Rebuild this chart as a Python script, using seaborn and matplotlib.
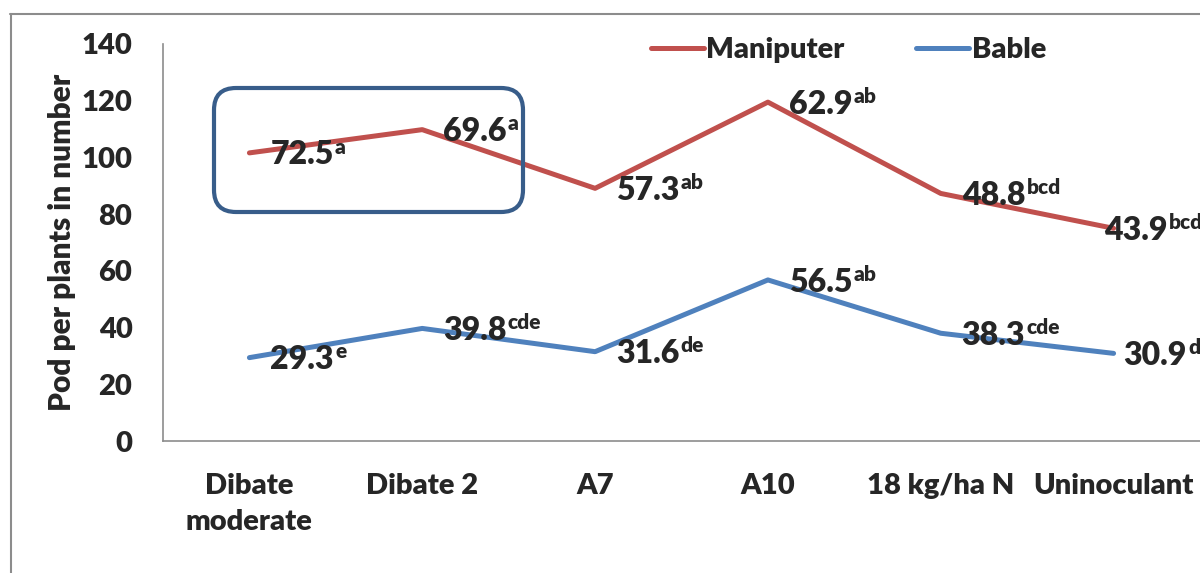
import matplotlib
matplotlib.use("Agg")
import matplotlib.pyplot as plt
import seaborn as sns
import pandas as pd
from matplotlib.patches import FancyBboxPatch
from matplotlib.lines import Line2D

# Données
categories = ["Dibate\nmoderate", "Dibate 2", "A7", "A10", "18 kg/ha N", "Uninoculant"]
maniputer = [101.6, 109.8, 89.1, 119.5, 87.3, 75.0]
bable = [29.4, 39.7, 31.5, 56.8, 38.0, 30.9]
maniputer_vals = ["72.5", "69.6", "57.3", "62.9", "48.8", "43.9"]
maniputer_sup = ["a", "a", "ab", "ab", "bcd", "bcde"]
bable_vals = ["29.3", "39.8", "31.6", "56.5", "38.3", "30.9"]
bable_sup = ["e", "cde", "de", "ab", "cde", "de"]

colors = {"Maniputer": "#C0504D", "Bable": "#4F81BD"}
W = "heavy"

sns.set_style("white")
plt.rcParams["font.family"] = ["Lato", "DejaVu Sans"]
plt.rcParams["font.weight"] = W

df = pd.DataFrame({
    "pos": list(range(len(categories))) * 2,
    "value": maniputer + bable,
    "serie": ["Maniputer"] * len(categories) + ["Bable"] * len(categories),
})

fig = plt.figure(figsize=(12, 5.73), dpi=100)
ax = fig.add_axes([163 / 1200, 1 - 441 / 573, 1 - 163 / 1200, (441 - 44) / 573])

sns.lineplot(data=df, x="pos", y="value", hue="serie", palette=colors,
             linewidth=3.6, sort=False, ax=ax, legend=False)

ax.set_xlim(-0.5, len(categories) - 0.5)
ax.set_ylim(0, 140)
ax.set_yticks(range(0, 141, 20))
ax.set_xticks(range(len(categories)))
ax.set_xticklabels(categories, fontsize=21, fontweight=W, linespacing=1.5)
ax.tick_params(axis="x", length=0, pad=23)
ax.tick_params(axis="y", length=0, pad=22, labelsize=21)
for lab in ax.get_yticklabels():
    lab.set_fontweight(W)
ax.set_xlabel("")
ax.set_ylabel("Pod per plants in number", fontsize=21.5, fontweight=W, labelpad=4)

for side in ["top", "right"]:
    ax.spines[side].set_visible(False)
for side in ["left", "bottom"]:
    ax.spines[side].set_color("#8C8C8C")
    ax.spines[side].set_linewidth(1.2)

# Étiquettes de données avec exposants (la dernière est repoussée vers l'intérieur, comme dans Excel)
def add_labels(values, texts, sups, last_dx):
    for i, (v, t, s) in enumerate(zip(values, texts, sups)):
        dx = 15 if i < len(values) - 1 else last_dx
        main = ax.annotate(t, xy=(i, v), xytext=(dx, -1.5), textcoords="offset points",
                           ha="left", va="center", fontsize=23, fontweight=W,
                           annotation_clip=False)
        ax.annotate(s, xy=(1.0, 1.0), xycoords=main, xytext=(1, 2),
                    textcoords="offset points", ha="left", va="top",
                    fontsize=15, fontweight=W, annotation_clip=False)

add_labels(maniputer, maniputer_vals, maniputer_sup, -7)
add_labels(bable, bable_vals, bable_sup, 7)

# Légende
handles = [Line2D([], [], color=colors[k], linewidth=3.6) for k in ["Maniputer", "Bable"]]
fig.legend(handles, ["Maniputer", "Bable"], loc="center left",
           bbox_to_anchor=(651 / 1200, 1 - 50 / 573), ncol=2, frameon=False,
           prop={"size": 21, "weight": W}, handlelength=1.8,
           handletextpad=0.1, columnspacing=2.45, borderpad=0, borderaxespad=0)

# Encadré arrondi
box = FancyBboxPatch((2.14, 5.73 - 2.12), 3.09, 1.24,
                     boxstyle="round,pad=0,rounding_size=0.22",
                     transform=fig.dpi_scale_trans, fill=False,
                     edgecolor="#385D8A", linewidth=3, zorder=5)
fig.patches.append(box)

# Cadre du graphique
fig.add_artist(Line2D([10.5 / 1200, 10.5 / 1200], [0, 1 - 14 / 573],
                      transform=fig.transFigure, color="#8C8C8C", linewidth=1.5))
fig.add_artist(Line2D([10 / 1200, 1], [1 - 14 / 573, 1 - 14 / 573],
                      transform=fig.transFigure, color="#8C8C8C", linewidth=1.5))

fig.savefig("out.png", dpi=100)
